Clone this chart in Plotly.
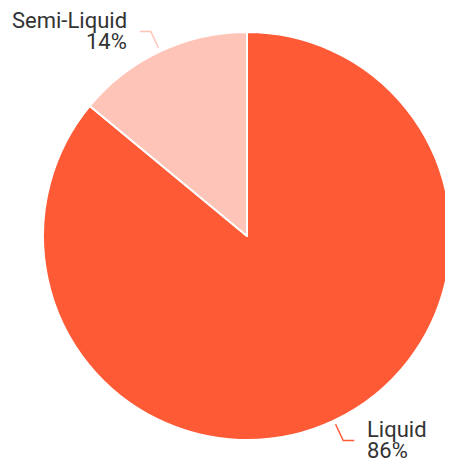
import math
import plotly.graph_objects as go

labels = ["Liquid", "Semi-Liquid"]
values = [86, 14]
colors = ["#FF5A36", "#FFC4B8"]

W, H = 453, 464
ML, MR, MT, MB = 35, 10, 24, 32
PW, PH = W - ML - MR, H - MT - MB
R = min(PW, PH) / 2.0

fig = go.Figure(go.Pie(
    labels=labels, values=values, sort=False, direction="clockwise", rotation=0,
    marker=dict(colors=colors, line=dict(color="white", width=2)),
    textinfo="none", hoverinfo="label+percent",
    showlegend=False,
))

def to_paper(dx, dy):
    # dx, dy in pixels relative to pie center (dy downward)
    return 0.5 + dx / PW, 0.5 - dy / PH

total = sum(values)
cum = 0.0
shapes, annos = [], []
font = dict(family="Roboto", size=22, color="#333333")
for lab, val, col in zip(labels, values, colors):
    frac = val / total
    mid = (cum + frac / 2) * 2 * math.pi
    cum += frac
    s, c = math.sin(mid), -math.cos(mid)
    x0, y0 = to_paper((R + 4) * s, (R + 4) * c)
    ex, ey = (R + 22) * s, (R + 22) * c
    side = 1 if s >= 0 else -1
    hx = ex + side * 11
    x1, y1 = to_paper(ex, ey)
    x2, y2 = to_paper(hx, ey)
    shapes.append(dict(type="path", xref="paper", yref="paper",
                       path=f"M{x0},{y0} L{x1},{y1} L{x2},{y2}",
                       line=dict(color=col, width=1.5)))
    tx, ty = to_paper(hx + side * 11, ey)
    pct = f"{round(frac * 100)}%"
    for txt, shift in ((lab, 11), (pct, -10)):
        annos.append(dict(x=tx, y=ty, xref="paper", yref="paper", text=txt,
                          showarrow=False, xanchor="left" if side > 0 else "right",
                          yanchor="middle", yshift=shift, font=font))

fig.update_layout(width=W, height=H, margin=dict(l=ML, r=MR, t=MT, b=MB),
                  paper_bgcolor="white", shapes=shapes, annotations=annos)
fig.write_html("out.html")
